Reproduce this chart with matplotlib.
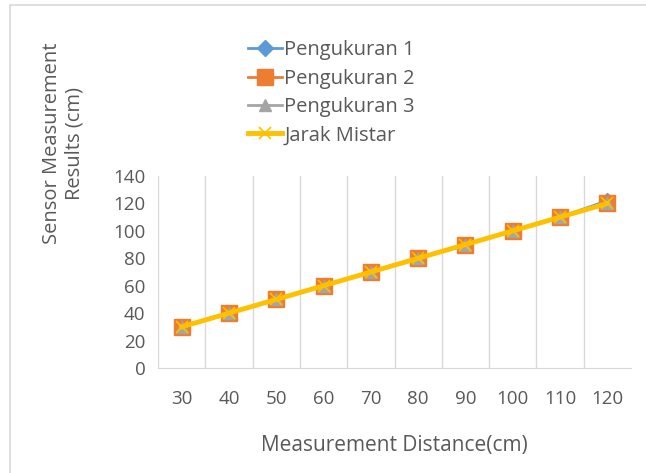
import numpy as np
import matplotlib
matplotlib.use('Agg')
import matplotlib.pyplot as plt
from matplotlib.patches import Rectangle

plt.rcParams['font.family'] = ['Open Sans', 'DejaVu Sans']

distance = [30, 40, 50, 60, 70, 80, 90, 100, 110, 120]
pengukuran_1 = [30, 40, 50, 60, 70, 80, 90, 100, 110, 122]
pengukuran_2 = [30, 40, 50, 60, 70, 80, 90, 100, 110, 120]
pengukuran_3 = [30, 40, 50, 60, 70, 80, 90, 100, 110, 120]
jarak_mistar = [30, 40, 50, 60, 70, 80, 90, 100, 110, 120]
y_ticks = [0, 20, 40, 60, 80, 100, 120, 140]

text_grey = '#595959'
grid_grey = '#d9d9d9'

fig = plt.figure(figsize=(6.46, 4.73), dpi=100)
# chart border (only left/top edges are in view)
fig.patches.append(Rectangle((10 / 646, -0.1), 1.2, 1 - 5 / 473 + 0.1, transform=fig.transFigure,
                             fill=False, edgecolor='#d9d9d9', linewidth=1.2))

ax = fig.add_axes([158 / 646, 1 - 368 / 473, (631 - 158) / 646, (368 - 176) / 473])
x = np.arange(len(distance))

ax.plot(x, pengukuran_1, color='#5B9BD5', linewidth=2, marker='D', markersize=8, label='Pengukuran 1', zorder=3)
ax.plot(x, pengukuran_2, color='#ED7D31', linewidth=2, marker='s', markersize=12, label='Pengukuran 2', zorder=4)
ax.plot(x, pengukuran_3, color='#A5A5A5', linewidth=2, marker='^', markersize=9, label='Pengukuran 3', zorder=5)
ax.plot(x, jarak_mistar, color='#FFC000', linewidth=3.5, marker='x', markersize=8, markeredgewidth=1.2,
        label='Jarak Mistar', zorder=6)

ax.set_xlim(-0.5, len(distance) - 0.5)
ax.set_ylim(0, 140)
ax.set_yticks(y_ticks)
ax.set_xticks(x)
ax.set_xticklabels([str(d) for d in distance])
for b in np.arange(-0.5, len(distance) - 1, 1.0):
    ax.axvline(b, color=grid_grey, linewidth=1, zorder=0)

for s in ['top', 'right', 'left']:
    ax.spines[s].set_visible(False)
ax.spines['bottom'].set_color(grid_grey)
ax.tick_params(axis='both', length=0, colors=text_grey, labelsize=13.5)
ax.tick_params(axis='x', pad=16)
ax.tick_params(axis='y', pad=9)

ax.set_xlabel('Measurement Distance(cm)', color=text_grey, fontsize=15, labelpad=19)
fig.text(63 / 646, 1 - 143 / 473, 'Sensor Measurement\nResults (cm)', rotation=90, ha='center', va='center',
         multialignment='center', color=text_grey, fontsize=14.5, linespacing=1.15)

fig.legend(loc='upper left', bbox_to_anchor=(230 / 646, 1 - 22 / 473), frameon=False,
           fontsize=14.5, labelcolor=text_grey, handlelength=1.7, handletextpad=0.1, labelspacing=0.42)

fig.savefig('out.png', dpi=100)
